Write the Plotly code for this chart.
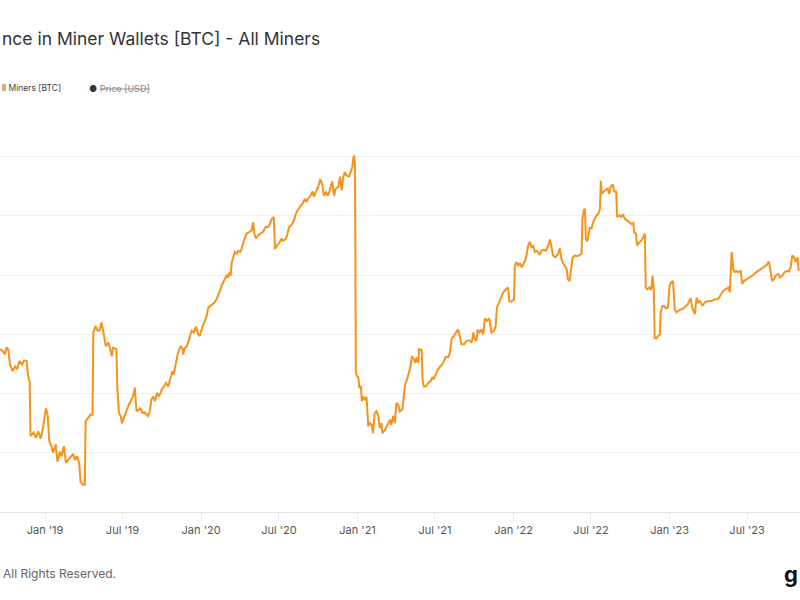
import plotly.graph_objects as go

# Balance in miner wallets (BTC)
dates = [
    "2018-09-18", "2018-09-24", "2018-09-29", "2018-10-03", "2018-10-07", "2018-10-11", "2018-10-17", "2018-10-23",
    "2018-10-28", "2018-11-02", "2018-11-08", "2018-11-13", "2018-11-19", "2018-11-22", "2018-11-26", "2018-11-28",
    "2018-12-05", "2018-12-11", "2018-12-16", "2018-12-22", "2018-12-28", "2019-01-03", "2019-01-07", "2019-01-11",
    "2019-01-16", "2019-01-20", "2019-01-26", "2019-01-30", "2019-02-05", "2019-02-09", "2019-02-14", "2019-02-19",
    "2019-02-24", "2019-03-02", "2019-03-08", "2019-03-12", "2019-03-17", "2019-03-22", "2019-03-25", "2019-03-31",
    "2019-04-04", "2019-04-06", "2019-04-12", "2019-04-17", "2019-04-22", "2019-04-24", "2019-04-29", "2019-05-04",
    "2019-05-09", "2019-05-13", "2019-05-17", "2019-05-23", "2019-05-29", "2019-06-02", "2019-06-06", "2019-06-09",
    "2019-06-17", "2019-06-19", "2019-06-23", "2019-06-27", "2019-06-30", "2019-07-04", "2019-07-09", "2019-07-14",
    "2019-07-18", "2019-07-22", "2019-07-26", "2019-07-30", "2019-08-03", "2019-08-09", "2019-08-12", "2019-08-17",
    "2019-08-22", "2019-08-30", "2019-09-03", "2019-09-07", "2019-09-11", "2019-09-15", "2019-09-20", "2019-09-25",
    "2019-10-01", "2019-10-06", "2019-10-11", "2019-10-16", "2019-10-22", "2019-10-26", "2019-10-29", "2019-11-03",
    "2019-11-08", "2019-11-14", "2019-11-19", "2019-11-20", "2019-11-24", "2019-11-29", "2019-12-04", "2019-12-10",
    "2019-12-15", "2019-12-20", "2019-12-25", "2019-12-29", "2020-01-02", "2020-01-06", "2020-01-10", "2020-01-14",
    "2020-01-18", "2020-01-23", "2020-01-28", "2020-02-02", "2020-02-06", "2020-02-10", "2020-02-14", "2020-02-18",
    "2020-02-21", "2020-02-25", "2020-03-01", "2020-03-04", "2020-03-08", "2020-03-10", "2020-03-13", "2020-03-16",
    "2020-03-20", "2020-03-24", "2020-03-28", "2020-04-01", "2020-04-05", "2020-04-08", "2020-04-12", "2020-04-16",
    "2020-04-22", "2020-04-28", "2020-05-02", "2020-05-04", "2020-05-08", "2020-05-13", "2020-05-19", "2020-05-25",
    "2020-05-31", "2020-06-06", "2020-06-10", "2020-06-14", "2020-06-19", "2020-06-22", "2020-06-27", "2020-07-03",
    "2020-07-07", "2020-07-11", "2020-07-17", "2020-07-20", "2020-07-25", "2020-07-31", "2020-08-05", "2020-08-11",
    "2020-08-19", "2020-08-25", "2020-08-31", "2020-09-04", "2020-09-07", "2020-09-13", "2020-09-18", "2020-09-21",
    "2020-09-25", "2020-10-01", "2020-10-06", "2020-10-11", "2020-10-14", "2020-10-19", "2020-10-24", "2020-10-28",
    "2020-11-03", "2020-11-07", "2020-11-11", "2020-11-17", "2020-11-21", "2020-11-25", "2020-11-28", "2020-12-02",
    "2020-12-06", "2020-12-12", "2020-12-16", "2020-12-20", "2020-12-22", "2020-12-24", "2020-12-26", "2020-12-27",
    "2020-12-28", "2020-12-31", "2021-01-03", "2021-01-05", "2021-01-09", "2021-01-11", "2021-01-14", "2021-01-18",
    "2021-01-22", "2021-01-26", "2021-01-30", "2021-02-03", "2021-02-06", "2021-02-10", "2021-02-14", "2021-02-18",
    "2021-02-22", "2021-02-26", "2021-02-28", "2021-03-06", "2021-03-11", "2021-03-18", "2021-03-21", "2021-03-25",
    "2021-03-29", "2021-04-02", "2021-04-06", "2021-04-10", "2021-04-16", "2021-04-19", "2021-04-22", "2021-04-27",
    "2021-05-02", "2021-05-05", "2021-05-08", "2021-05-13", "2021-05-16", "2021-05-19", "2021-05-23", "2021-05-25",
    "2021-05-31", "2021-06-02", "2021-06-05", "2021-06-10", "2021-06-15", "2021-06-21", "2021-06-25", "2021-06-28",
    "2021-07-03", "2021-07-08", "2021-07-14", "2021-07-20", "2021-07-26", "2021-08-01", "2021-08-05", "2021-08-09",
    "2021-08-14", "2021-08-21", "2021-08-24", "2021-08-28", "2021-09-01", "2021-09-07", "2021-09-13", "2021-09-19",
    "2021-09-25", "2021-09-29", "2021-10-02", "2021-10-06", "2021-10-09", "2021-10-14", "2021-10-18", "2021-10-22",
    "2021-10-26", "2021-10-31", "2021-11-05", "2021-11-08", "2021-11-10", "2021-11-16", "2021-11-20", "2021-11-23",
    "2021-11-30", "2021-12-08", "2021-12-14", "2021-12-19", "2021-12-22", "2021-12-27", "2022-01-02", "2022-01-04",
    "2022-01-08", "2022-01-12", "2022-01-16", "2022-01-20", "2022-01-24", "2022-01-28", "2022-02-01", "2022-02-04",
    "2022-02-08", "2022-02-12", "2022-02-16", "2022-02-20", "2022-02-24", "2022-02-27", "2022-03-03", "2022-03-07",
    "2022-03-13", "2022-03-17", "2022-03-23", "2022-03-27", "2022-03-31", "2022-04-03", "2022-04-09", "2022-04-15",
    "2022-04-19", "2022-04-23", "2022-04-27", "2022-05-01", "2022-05-05", "2022-05-08", "2022-05-12", "2022-05-15",
    "2022-05-19", "2022-05-24", "2022-05-30", "2022-06-05", "2022-06-09", "2022-06-11", "2022-06-14", "2022-06-17",
    "2022-06-19", "2022-06-22", "2022-06-24", "2022-06-28", "2022-07-02", "2022-07-06", "2022-07-10", "2022-07-14",
    "2022-07-18", "2022-07-22", "2022-07-24", "2022-07-26", "2022-07-31", "2022-08-05", "2022-08-09", "2022-08-13",
    "2022-08-16", "2022-08-21", "2022-08-25", "2022-08-29", "2022-08-31", "2022-09-05", "2022-09-10", "2022-09-14",
    "2022-09-18", "2022-09-24", "2022-09-28", "2022-10-04", "2022-10-08", "2022-10-10", "2022-10-14", "2022-10-17",
    "2022-10-22", "2022-10-27", "2022-10-31", "2022-11-04", "2022-11-06", "2022-11-10", "2022-11-15", "2022-11-19",
    "2022-11-22", "2022-11-25", "2022-11-27", "2022-12-01", "2022-12-05", "2022-12-09", "2022-12-11", "2022-12-15",
    "2022-12-20", "2022-12-24", "2022-12-28", "2023-01-01", "2023-01-05", "2023-01-09", "2023-01-13", "2023-01-17",
    "2023-01-22", "2023-01-29", "2023-02-03", "2023-02-08", "2023-02-13", "2023-02-19", "2023-02-24", "2023-03-01",
    "2023-03-05", "2023-03-09", "2023-03-13", "2023-03-19", "2023-03-24", "2023-04-01", "2023-04-09", "2023-04-17",
    "2023-04-24", "2023-04-30", "2023-05-06", "2023-05-12", "2023-05-18", "2023-05-22", "2023-05-26", "2023-05-30",
    "2023-06-02", "2023-06-06", "2023-06-10", "2023-06-16", "2023-06-20", "2023-06-24", "2023-06-30", "2023-07-08",
    "2023-07-15", "2023-07-23", "2023-07-31", "2023-08-08", "2023-08-16", "2023-08-21", "2023-08-25", "2023-08-29",
    "2023-09-02", "2023-09-06", "2023-09-12", "2023-09-16", "2023-09-22", "2023-09-27", "2023-10-03", "2023-10-07",
    "2023-10-11", "2023-10-15", "2023-10-19", "2023-10-23", "2023-10-27", "2023-10-30",
]

balance_btc = [
    1807500, 1807200, 1806600, 1807800, 1807500, 1804900, 1803800, 1804600,
    1804100, 1805500, 1804900, 1805600, 1805500, 1803200, 1801900, 1792800,
    1793400, 1792500, 1793600, 1792400, 1794500, 1797500, 1796400, 1791900,
    1791100, 1790000, 1791400, 1788500, 1790200, 1789400, 1791100, 1788300,
    1788800, 1789400, 1789800, 1788800, 1789400, 1788300, 1785100, 1784600,
    1784600, 1795300, 1795900, 1796400, 1796400, 1810300, 1811400, 1810600,
    1810700, 1812000, 1810600, 1808000, 1808600, 1807700, 1806300, 1807700,
    1807500, 1801200, 1796700, 1796200, 1795000, 1795900, 1797000, 1797800,
    1798400, 1799000, 1799500, 1801000, 1797000, 1797300, 1797600, 1796700,
    1796800, 1796200, 1797000, 1799000, 1799500, 1798700, 1800100, 1799500,
    1800700, 1801200, 1801800, 1801200, 1802900, 1803800, 1803200, 1804900,
    1806900, 1808000, 1807500, 1806600, 1807700, 1808000, 1809400, 1810600,
    1810300, 1811300, 1810000, 1809700, 1810800, 1811700, 1812300, 1813100,
    1814500, 1814800, 1815100, 1815400, 1815900, 1816500, 1817300, 1818200,
    1818800, 1819300, 1819900, 1819600, 1820500, 1819900, 1822200, 1823000,
    1823900, 1823600, 1824100, 1823900, 1824400, 1825300, 1826100, 1827000,
    1827200, 1827500, 1828900, 1827200, 1826200, 1826700, 1827000, 1827300,
    1828100, 1828100, 1828600, 1829400, 1829800, 1824400, 1825000, 1825500,
    1826100, 1825800, 1826100, 1826700, 1828100, 1828500, 1829200, 1830600,
    1831500, 1832000, 1832900, 1832300, 1832900, 1833400, 1834100, 1833200,
    1834000, 1834900, 1836200, 1835100, 1833400, 1834000, 1833400, 1834300,
    1835800, 1833400, 1834600, 1834900, 1836600, 1834300, 1836300, 1837400,
    1836800, 1836600, 1837400, 1838300, 1839700, 1840200, 1838500, 1812300,
    1803500, 1802900, 1802700, 1801000, 1801200, 1798700, 1799500, 1799000,
    1799400, 1794500, 1795000, 1794700, 1793300, 1796700, 1797000, 1796400,
    1794200, 1795000, 1793300, 1793800, 1794500, 1795600, 1794700, 1796200,
    1795000, 1798400, 1798100, 1797000, 1797300, 1799000, 1801500, 1802400,
    1804100, 1804600, 1806300, 1805800, 1805200, 1806100, 1805200, 1807500,
    1807300, 1802400, 1801200, 1801200, 1801800, 1802100, 1802800, 1802400,
    1803200, 1804100, 1804600, 1805100, 1806200, 1806100, 1806900, 1809200,
    1809700, 1810400, 1810800, 1809700, 1808300, 1808300, 1808900, 1809000,
    1808600, 1810300, 1809200, 1808900, 1810800, 1810300, 1810800, 1810000,
    1812700, 1812300, 1812700, 1811400, 1810300, 1810600, 1811400, 1814500,
    1815600, 1817100, 1817600, 1817900, 1815600, 1815500, 1815900, 1821600,
    1822200, 1821600, 1822000, 1821300, 1821900, 1822400, 1823600, 1825000,
    1825600, 1824700, 1824900, 1823900, 1824100, 1823900, 1823400, 1824100,
    1824300, 1824100, 1825000, 1826000, 1824700, 1823300, 1823000, 1823600,
    1824500, 1822700, 1821900, 1821600, 1821000, 1819300, 1819000, 1821000,
    1823000, 1823300, 1823200, 1823400, 1823600, 1829500, 1830900, 1831200,
    1826100, 1825800, 1826100, 1828100, 1827800, 1828900, 1829500, 1830100,
    1830300, 1831200, 1835900, 1833700, 1834100, 1834400, 1834600, 1833700,
    1834900, 1835300, 1834100, 1834100, 1829800, 1830100, 1829800, 1830300,
    1829500, 1829200, 1828900, 1828600, 1828800, 1827200, 1827000, 1825000,
    1825500, 1825800, 1826400, 1827000, 1817900, 1817600, 1817900, 1817500,
    1819900, 1817700, 1809400, 1809300, 1809700, 1810000, 1813700, 1814800,
    1814700, 1814400, 1814500, 1818200, 1818800, 1818900, 1814200, 1813700,
    1814000, 1814200, 1814400, 1814800, 1815100, 1816100, 1814200, 1813400,
    1816200, 1815400, 1815600, 1814800, 1815400, 1815600, 1815600, 1815900,
    1815900, 1816600, 1817300, 1817600, 1817900, 1817100, 1823900, 1821000,
    1820500, 1820700, 1820500, 1820700, 1818500, 1819000, 1819300, 1819600,
    1820000, 1820500, 1820900, 1821300, 1821700, 1822300, 1820500, 1819000,
    1819300, 1819900, 1820200, 1819600, 1819900, 1820500, 1820700, 1820600,
    1821300, 1823300, 1823000, 1822200, 1823000, 1820700,
]

# texts as they appear in the (cropped) screenshot
title_text = "nce in Miner Wallets [BTC] - All Miners"
series_label = "ll Miners [BTC]"
hidden_series = "Price [USD]"
footer_text = "All Rights Reserved."

fig = go.Figure()
fig.add_trace(go.Scatter(x=dates, y=balance_btc, mode="lines", name="All Miners [BTC]",
                         line=dict(color="#f7931a", width=2), showlegend=False))

font = "Inter, Roboto, sans-serif"
plot_top, plot_bottom = 97, 512

fig.update_layout(
    width=800, height=600,
    margin=dict(l=0, r=0, t=plot_top, b=600 - plot_bottom),
    paper_bgcolor="white", plot_bgcolor="white",
    font=dict(family=font, color="#555"),
    xaxis=dict(range=["2018-09-17 16:00", "2023-11-01 22:00"],
               tick0="2019-01-01", dtick="M6", tickformat="%b '%y",
               showgrid=False, showline=True, linecolor="#e3e3e3", linewidth=1,
               ticks="outside", ticklen=8, tickcolor="#ececec",
               tickfont=dict(size=11, color="#555")),
    yaxis=dict(range=[1780000, 1850060], dtick=10000, showticklabels=False,
               gridcolor="#f0f0f0", gridwidth=1, zeroline=False),
    annotations=[
        dict(text=title_text, x=0, xanchor="left", y=38,
             font=dict(size=17.5, color="#333", family=font)),
        dict(text=series_label, x=0, xanchor="left", y=88,
             font=dict(size=8.5, color="#444", family=font)),
        dict(text="<span style='color:#333'>●</span> <span style='text-decoration:line-through'>"
                  + hidden_series + "</span>",
             x=87 / 800, xanchor="left", y=88,
             font=dict(size=9, color="#888", family=font)),
        dict(text=footer_text, x=1 / 800, xanchor="left", y=573,
             font=dict(size=12, color="#666", family=font)),
        dict(text="<b>g</b>", x=1, xanchor="right", y=574,
             font=dict(size=22, color="#111", family=font)),
    ],
)

# annotation y values are given in screen pixels; convert to paper coords
for a in fig.layout.annotations:
    a.update(xref="paper", yref="paper", yanchor="middle", showarrow=False,
             y=(plot_bottom - a.y) / (plot_bottom - plot_top))

fig.write_html("out.html", config={"displayModeBar": False},
               post_script="document.body.style.margin='0';")
